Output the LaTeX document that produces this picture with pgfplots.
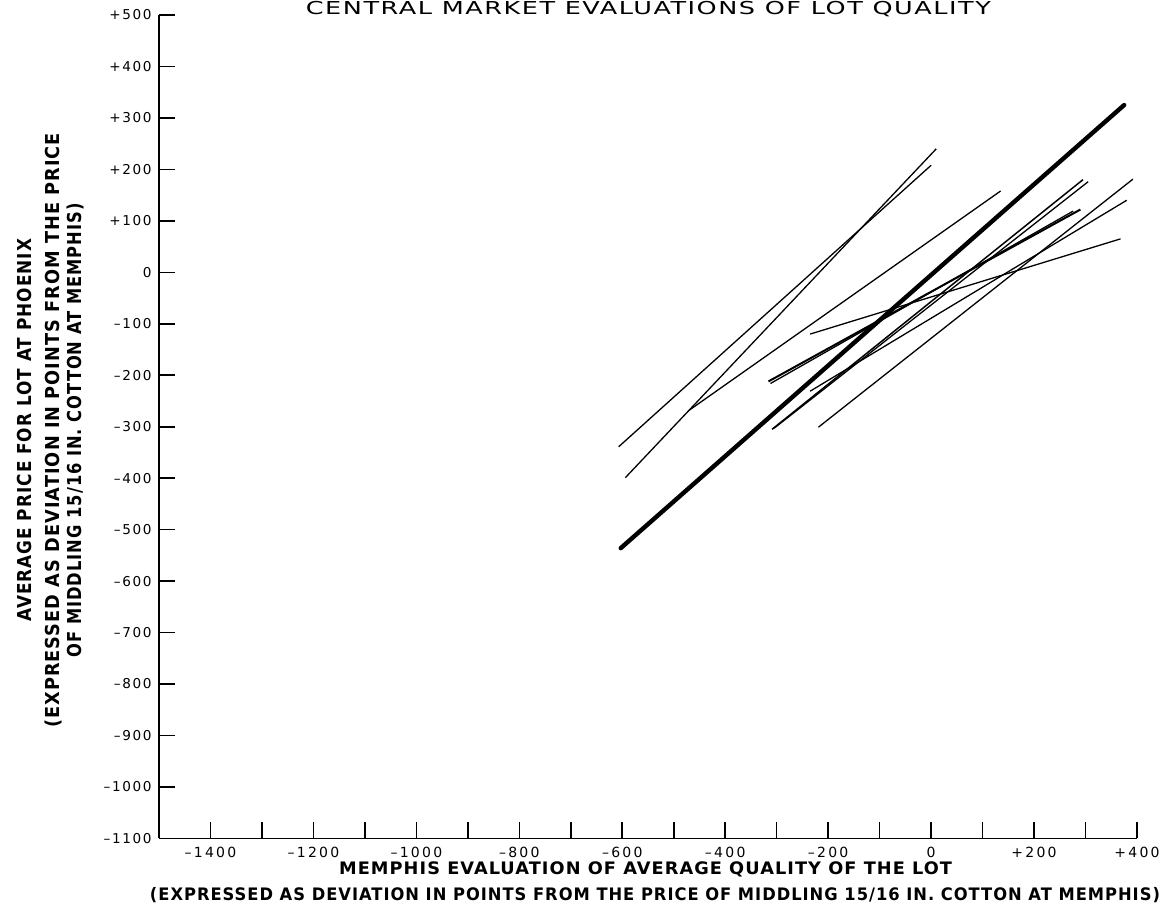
\documentclass[border=0pt]{standalone}
\usepackage{pgfplots}
\pgfplotsset{compat=1.18}
\usepackage{graphicx}
\usepackage{fontspec}
\setmainfont{DejaVu Sans}
\newfontfamily\xtickfont[LetterSpace=16]{DejaVu Sans}
\newfontfamily\ytickfont[LetterSpace=12]{DejaVu Sans}
\newfontfamily\lblfont[LetterSpace=6]{DejaVu Sans}

\begin{document}
\begin{tikzpicture}
\begin{axis}[
  at={(0,0)}, anchor=south west, scale only axis,
  width=489pt, height=411.7pt,
  xmin=-1500, xmax=400, ymin=-1100, ymax=500,
  axis x line=bottom, axis y line=left,
  axis line style={-, line width=0.8pt, black},
  tick align=inside,
  major tick length=8pt,
  tick style={line width=0.8pt, black},
  xtick={-1400,-1300,...,400},
  xticklabels={–1400,,–1200,,–1000,,–800,,–600,,–400,,–200,,0,,+200,,+400},
  ytick={-1100,-1000,...,500},
  yticklabels={–1100,–1000,–900,–800,–700,–600,–500,–400,–300,–200,–100,0,+100,+200,+300,+400,+500},
  xticklabel style={font=\xtickfont\fontsize{7}{8}\selectfont, anchor=north, inner sep=0pt, yshift=-4pt},
  yticklabel style={font=\ytickfont\fontsize{6.8}{8}\selectfont, anchor=east, inner sep=0pt, xshift=-3.5pt},
  clip=false,
]
% thick reference line
\addplot[black, line width=2.2pt, line cap=round] coordinates {(-603,-536) (375,325)};
% thin lines
\addplot[black, line width=0.65pt] coordinates {(-470,-268) (135,158)};
\addplot[black, line width=0.65pt] coordinates {(-607,-339) (0,208)};
\addplot[black, line width=0.65pt] coordinates {(-594,-399) (10,240)};
\addplot[black, line width=1.0pt] coordinates {(-316,-212) (290,122)};
\addplot[black, line width=0.65pt] coordinates {(-312,-216) (276,119)};
\addplot[black, line width=0.65pt] coordinates {(-235,-120) (368,65)};
\addplot[black, line width=0.65pt] coordinates {(-219,-301) (392,181)};
\addplot[black, line width=0.65pt] coordinates {(-235,-231) (380,140)};
\addplot[black, line width=0.75pt] coordinates {(-309,-305) (295,180)};
\addplot[black, line width=0.65pt] coordinates {(-305,-303) (305,176)};
\end{axis}

% title
\node[anchor=base, inner sep=0pt] at (244.7pt,411.7pt)
  {\resizebox{342.5pt}{\height}{\lblfont\fontsize{8.9}{10}\selectfont CENTRAL MARKET EVALUATIONS OF LOT QUALITY}};

% x label
\node[anchor=base, inner sep=0pt] at (243.3pt,-18pt)
  {\resizebox{306.5pt}{\height}{\lblfont\bfseries\fontsize{8.6}{10}\selectfont MEMPHIS EVALUATION OF AVERAGE QUALITY OF THE LOT}};
\node[anchor=base, inner sep=0pt] at (248pt,-31.2pt)
  {\resizebox{505pt}{\height}{\lblfont\bfseries\fontsize{8.6}{10}\selectfont (EXPRESSED AS DEVIATION IN POINTS FROM THE PRICE OF MIDDLING 15/16 IN. COTTON AT MEMPHIS)}};

% y label
\node[rotate=90, anchor=base, inner sep=0pt] at (-63.5pt,204pt)
  {\resizebox{191.5pt}{\height}{\lblfont\bfseries\fontsize{9.6}{11}\selectfont AVERAGE PRICE FOR LOT AT PHOENIX}};
\node[rotate=90, anchor=base, inner sep=0pt] at (-49.5pt,204pt)
  {\resizebox{297.5pt}{\height}{\lblfont\bfseries\fontsize{9.6}{11}\selectfont (EXPRESSED AS DEVIATION IN POINTS FROM THE PRICE}};
\node[rotate=90, anchor=base, inner sep=0pt] at (-38.5pt,204pt)
  {\resizebox{227pt}{\height}{\lblfont\bfseries\fontsize{9.6}{11}\selectfont OF MIDDLING 15/16 IN. COTTON AT MEMPHIS)}};

\pgfresetboundingbox
\useasboundingbox (-79.5pt,-39.3pt) rectangle (505.5pt,419.2pt);
\end{tikzpicture}
\end{document}
